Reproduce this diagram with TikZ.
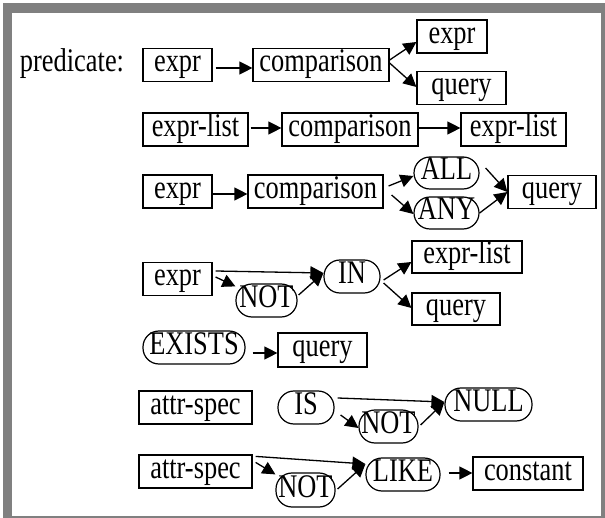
\documentclass[tikz,border=0pt]{standalone}
\usepackage{fontspec}
\setmainfont{Liberation Serif}
\newfontfamily\diagfont[FakeStretch=0.8]{Liberation Serif}
\usetikzlibrary{arrows.meta}

\definecolor{framegray}{gray}{0.5}

\begin{document}
\begin{tikzpicture}[x=1pt, y=-1pt,
  every node/.style={font=\diagfont\fontsize{33}{38}\selectfont, text height=19pt, text depth=5pt, inner sep=0pt},
  box/.style={draw, line width=1.2pt, minimum height=33pt},
  pill/.style={box, rounded corners=16pt},
  link/.style={line width=1.3pt, -{Triangle[length=13pt,width=13pt]}}]

\useasboundingbox (0,0) rectangle (605,518);

%% frame
\fill[framegray] (3,3) rectangle (605,518);
\fill[white] (11.5,13) rectangle (601,515.5);

%% row 1
\node (pred) at (72,65) {predicate:};
\node[box, minimum width=69pt] (e1) at (177.5,65) {expr};
\node[box, minimum width=136pt] (c1) at (321,65) {comparison};
\node[box, minimum width=70pt] (x1) at (452,36.5) {expr};
\node[box, minimum width=89pt] (q1) at (461.5,88) {query};

\draw[link, shorten <=3pt] ([yshift=-3pt]e1.east) -- ([yshift=-3pt]c1.west);
\draw[link] ([yshift=5pt]c1.east) -- ([yshift=-5.5pt]x1.west);
\draw[link] ([yshift=2pt]c1.east) -- ([yshift=1pt]q1.west);

%% row 2
\node[box, minimum width=105pt] (l2a) at (195.5,129.5) {expr-list};
\node[box, minimum width=136pt] (c2) at (350,129.5) {comparison};
\node[box, minimum width=105pt] (l2b) at (513.5,129.5) {expr-list};

\draw[link, shorten <=2pt] ([yshift=1.5pt]l2a.east) -- ([yshift=1.5pt]c2.west);
\draw[link] ([yshift=1.5pt]c2.east) -- ([yshift=1.5pt]l2b.west);

%% row 3
\node[box, minimum width=69pt] (e3) at (177.5,191.5) {expr};
\node[box, minimum width=135pt] (c3) at (315.5,191.5) {comparison};
\node[pill, minimum width=65pt, minimum height=32pt] (all3) at (446.5,173) {ALL};
\node[pill, minimum width=65pt, minimum height=32pt] (any3) at (446.5,213) {ANY};
\node[box, minimum width=88pt] (q3) at (552,192) {query};

\draw[link] ([yshift=-2.5pt]e3.east) -- ([yshift=-2.5pt]c3.west);
\draw[link] ([shift={(5pt,5.5pt)}]c3.east) -- ([yshift=-3pt]all3.west);
\draw[link] ([shift={(8pt,-3.5pt)}]c3.east) -- ([yshift=-1pt]any3.west);
\draw[link] ([shift={(6pt,5pt)}]all3.east) -- (q3.west);
\draw[link] (any3.east) -- (q3.west);

%% row 4
\node[box, minimum width=69pt] (e4) at (177.5,279) {expr};
\node[pill, minimum width=61pt] (not4) at (266.5,300.5) {NOT};
\node[pill, minimum width=56pt] (in4) at (352,276.5) {IN};
\node[box, minimum width=110pt, minimum height=32pt] (l4) at (467,257) {expr-list};
\node[box, minimum width=88pt, minimum height=32pt] (q4) at (456,309) {query};

\draw[link] ([shift={(3pt,8pt)}]e4.east) -- ([yshift=3.5pt]in4.west);
\draw[link] ([shift={(3pt,2pt)}]e4.east) -- ([yshift=-3pt]not4.north west);
\draw[link] ([shift={(1pt,5.5pt)}]not4.east) -- ([yshift=3.5pt]in4.west);
\draw[link] ([shift={(3pt,-3.5pt)}]in4.east) -- ([yshift=-5pt]l4.west);
\draw[link] ([shift={(3pt,-6.5pt)}]in4.east) -- ([yshift=1pt]q4.west);

%% row 5
\node[pill, minimum width=102pt] (ex5) at (194,347.5) {EXISTS};
\node[box, minimum width=89pt, minimum height=34pt] (q5) at (322.5,350) {query};

\draw[link] ([shift={(7pt,-5.5pt)}]ex5.east) -- ([yshift=-3pt]q5.west);

%% row 6
\node[box, minimum width=113pt] (as6) at (195.5,407.5) {attr-spec};
\node[pill, minimum width=56pt] (is6) at (306,407.5) {IS};
\node[pill, minimum width=59pt] (not6) at (388.5,426.5) {NOT};
\node[pill, minimum width=87pt] (null6) at (488.5,404.5) {NULL};

\draw[link] ([shift={(3pt,9.5pt)}]is6.east) -- ([yshift=2.5pt]null6.west);
\draw[link] ([shift={(6pt,-7.5pt)}]is6.east) -- ([yshift=-1.5pt]not6.west);
\draw[link] ([shift={(2pt,1.5pt)}]not6.east) -- ([yshift=2.5pt]null6.west);

%% row 7
\node[box, minimum width=113pt] (as7) at (195.5,471.5) {attr-spec};
\node[pill, minimum width=59pt, minimum height=34pt] (not7) at (305.5,490) {NOT};
\node[pill, minimum width=74pt] (like7) at (403,474.5) {LIKE};
\node[box, minimum width=110pt] (k7) at (528,473.5) {constant};

\draw[link] ([shift={(3pt,-2pt)}]as7.north east) -- ([yshift=10.5pt]like7.west);
\draw[link] ([shift={(3pt,-8pt)}]as7.north east) -- ([yshift=-2pt]not7.north west);
\draw[link] ([shift={(2pt,1pt)}]not7.east) -- ([yshift=10.5pt]like7.west);
\draw[link] ([shift={(8pt,1.5pt)}]like7.east) -- ([yshift=0.5pt]k7.west);

\end{tikzpicture}
\end{document}
